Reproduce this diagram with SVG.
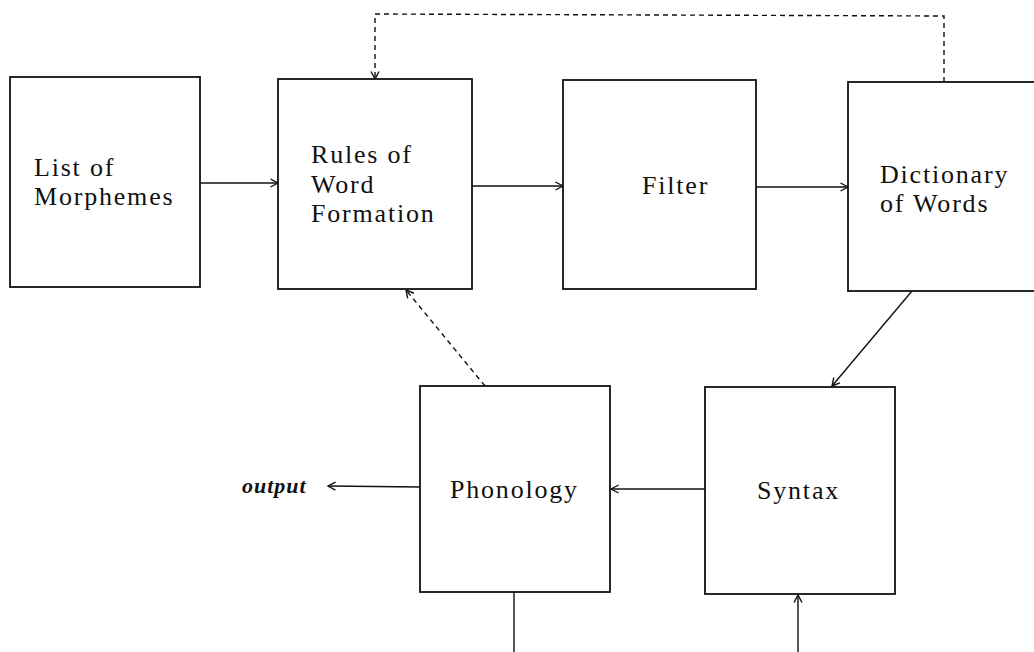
<svg xmlns="http://www.w3.org/2000/svg" width="1034" height="652" viewBox="0 0 1034 652">
  <defs>
    <style>
      .box { fill: #fff; stroke: #111; stroke-width: 1.8; }
      .lbl { font-family: "Liberation Serif", "Times New Roman", serif; font-size: 26px; letter-spacing: 1.8px; fill: #111; }
      .it { font-style: italic; font-weight: bold; font-size: 22px; letter-spacing: 1px; }
      .conn { fill: none; stroke: #111; stroke-width: 1.4; }
      .dash { stroke-dasharray: 5 4; }
    </style>
    <marker id="arr" viewBox="0 0 10 10" refX="9.5" refY="5" markerWidth="10" markerHeight="10" markerUnits="userSpaceOnUse" orient="auto">
      <path d="M2,1 L9.5,5 L2,9" fill="none" stroke="#111" stroke-width="1.4"/>
    </marker>
  </defs>

  <rect width="1034" height="652" fill="#fff"/>

  <g id="connectors">
    <line class="conn" x1="200" y1="183" x2="278" y2="183" marker-end="url(#arr)"/>
    <line class="conn" x1="472" y1="186" x2="563" y2="186" marker-end="url(#arr)"/>
    <line class="conn" x1="756" y1="187" x2="848" y2="187" marker-end="url(#arr)"/>
    <polyline class="conn dash" points="944,82 944,16 375,14 375,79" marker-end="url(#arr)"/>
    <line class="conn dash" x1="485" y1="386" x2="406" y2="290" marker-end="url(#arr)"/>
    <line class="conn" x1="912" y1="291" x2="832" y2="386" marker-end="url(#arr)"/>
    <line class="conn" x1="705" y1="489" x2="611" y2="489" marker-end="url(#arr)"/>
    <line class="conn" x1="420" y1="487" x2="328" y2="486" marker-end="url(#arr)"/>
    <line class="conn" x1="514" y1="592" x2="514" y2="652"/>
    <line class="conn" x1="798" y1="652" x2="798" y2="595" marker-end="url(#arr)"/>
  </g>

  <g id="morphemes">
    <rect class="box" x="10" y="77" width="190" height="210"/>
    <text class="lbl" x="34" y="176">List of</text>
    <text class="lbl" x="34" y="205">Morphemes</text>
  </g>

  <g id="word-formation">
    <rect class="box" x="278" y="79" width="194" height="210"/>
    <text class="lbl" x="311" y="163">Rules of</text>
    <text class="lbl" x="311" y="193">Word</text>
    <text class="lbl" x="311" y="222">Formation</text>
  </g>

  <g id="filter">
    <rect class="box" x="563" y="80" width="193" height="209"/>
    <text class="lbl" x="642" y="194">Filter</text>
  </g>

  <g id="dictionary">
    <rect class="box" x="848" y="82" width="190" height="209"/>
    <text class="lbl" x="880" y="183">Dictionary</text>
    <text class="lbl" x="880" y="212">of Words</text>
  </g>

  <g id="phonology">
    <rect class="box" x="420" y="386" width="190" height="206"/>
    <text class="lbl" x="450" y="498">Phonology</text>
  </g>

  <g id="syntax">
    <rect class="box" x="705" y="387" width="190" height="207"/>
    <text class="lbl" x="757" y="499">Syntax</text>
  </g>

  <g id="output">
    <text class="lbl it" x="242" y="493">output</text>
  </g>
</svg>
